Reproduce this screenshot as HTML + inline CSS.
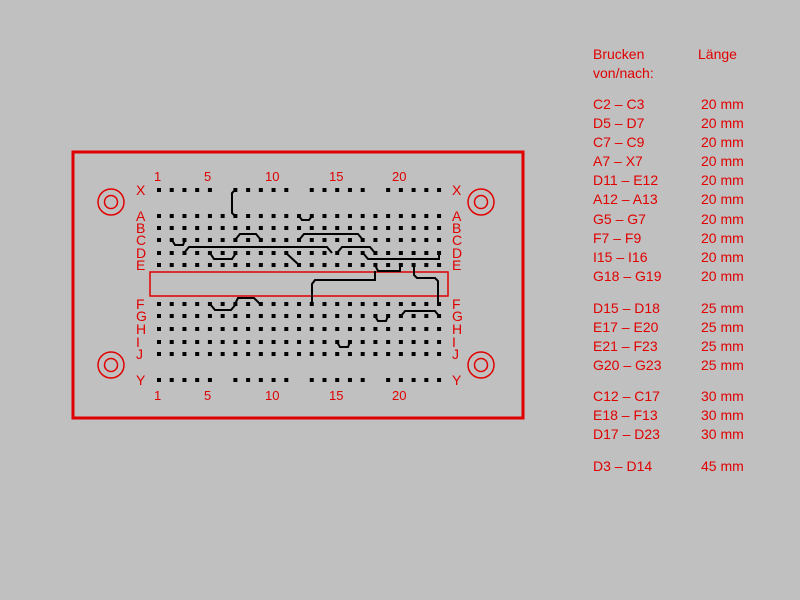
<!DOCTYPE html>
<html><head><meta charset="utf-8"><style>
body{margin:0;background:#c0c0c0;}
svg{display:block}
text{font-family:"Liberation Sans",sans-serif;fill:#e00000;}
</style></head><body>
<svg id="s" width="800" height="600" xmlns="http://www.w3.org/2000/svg">
<rect width="800" height="600" fill="#c0c0c0"/>
<rect x="73" y="152" width="450" height="266" fill="none" stroke="#e00000" stroke-width="3"/>
<rect x="150" y="272" width="298" height="24" fill="none" stroke="#e00000" stroke-width="1.5"/>
<g fill="none" stroke="#e00000" stroke-width="1.5">
<circle cx="111" cy="202" r="13"/><circle cx="111" cy="202" r="6.5"/>
<circle cx="481" cy="202" r="13"/><circle cx="481" cy="202" r="6.5"/>
<circle cx="111" cy="365" r="13"/><circle cx="111" cy="365" r="6.5"/>
<circle cx="481" cy="365" r="13"/><circle cx="481" cy="365" r="6.5"/>
</g>
<g id="dots" fill="#000"></g>
<g fill="none" stroke="#000" stroke-width="2">
<path d="M172 240 l3 5 h8 l2 -5"/>
<path d="M210 253 l4 6 h18 l4 -6"/>
<path d="M235 240 l5 -6 h16 l5 6"/>
<path d="M235 190 l-3 3 v20 l3 3"/>
<path d="M286 253 l13 12"/>
<path d="M299 216 l3 4 h7 l3 -4"/>
<path d="M210 304 l5 6 h16 l5 -6"/>
<path d="M235 304 l3 -6 h16 l6 6"/>
<path d="M337 342 l3 5 h8 l2 -5"/>
<path d="M375 316 l3 5 h8 l2 -5"/>
<path d="M337 253 l5 -6 h28 l5 6"/>
<path d="M299 240 l5 -6 h54 l5 6"/>
<path d="M184 253 l5 -6 h138 l5 6 h0"/>
<path d="M363 253 l5 6 h71 v-6"/>
<path d="M375 265 l3 6 h22 v-6"/>
<path d="M375 271 v9 h-60 l-3 4 v20"/>
<path d="M414 265 v10 l3 3 h18 l3 3 v23"/>
<path d="M401 316 l4 -5 h30 l4 5"/>
</g>
<g font-size="13">
<text x="154" y="181">1</text><text x="204" y="181">5</text><text x="265" y="181">10</text><text x="329" y="181">15</text><text x="392" y="181">20</text>
<text x="154" y="400">1</text><text x="204" y="400">5</text><text x="265" y="400">10</text><text x="329" y="400">15</text><text x="392" y="400">20</text>
</g>
<g id="rl" font-size="14"></g>
<g font-size="14">
<text x="593" y="59">Brucken</text><text x="698" y="59">Länge</text>
<text x="593" y="78">von/nach:</text>
</g>
<g id="list" font-size="14"></g>
</svg>
<script>
var ns="http://www.w3.org/2000/svg";
function X(c){return 159+12.73*(c-1);}
var rows={X:190,A:216,B:228,C:240,D:253,E:265,F:304,G:316,H:329,I:342,J:354,Y:380};
var d=document.getElementById('dots');
for(var r in rows){for(var c=1;c<=23;c++){
 if((r=='X'||r=='Y')&&(c==6||c==12||c==18))continue;
 var e=document.createElementNS(ns,'rect');e.setAttribute('x',X(c)-2);e.setAttribute('y',rows[r]-2);e.setAttribute('width',4);e.setAttribute('height',4);d.appendChild(e);}
 var rl=document.getElementById('rl');
 [136,452].forEach(function(x){var t=document.createElementNS(ns,'text');t.setAttribute('x',x);t.setAttribute('y',rows[r]+5);t.textContent=r;rl.appendChild(t);});
}
var L=[["C2 – C3","20 mm",109],["D5 – D7","20 mm",128],["C7 – C9","20 mm",147],["A7 – X7","20 mm",166],["D11 – E12","20 mm",185],["A12 – A13","20 mm",204],["G5 – G7","20 mm",224],["F7 – F9","20 mm",243],["I15 – I16","20 mm",262],["G18 – G19","20 mm",281],
["D15 – D18","25 mm",313],["E17 – E20","25 mm",332],["E21 – F23","25 mm",351],["G20 – G23","25 mm",370],
["C12 – C17","30 mm",401],["E18 – F13","30 mm",420],["D17 – D23","30 mm",439],["D3 – D14","45 mm",471]];
var g=document.getElementById('list');
L.forEach(function(a){var t=document.createElementNS(ns,'text');t.setAttribute('x',593);t.setAttribute('y',a[2]);t.textContent=a[0];g.appendChild(t);
var u=document.createElementNS(ns,'text');u.setAttribute('x',701);u.setAttribute('y',a[2]);u.textContent=a[1];g.appendChild(u);});
</script>
</body></html>
